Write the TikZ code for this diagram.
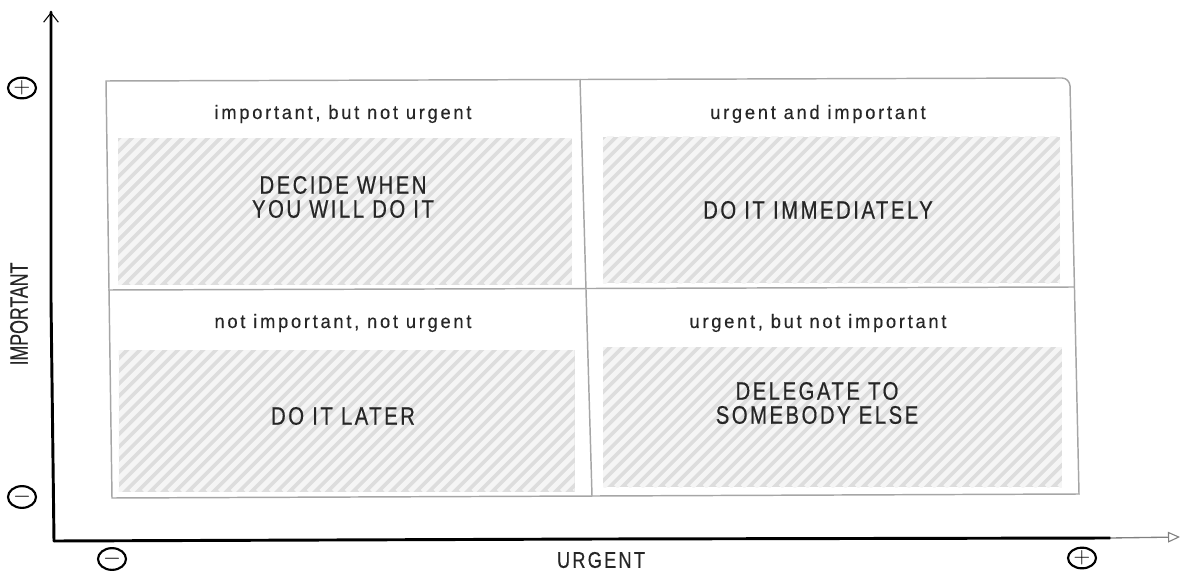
\documentclass[tikz,border=0pt]{standalone}
\usepackage{fontspec}
\setmainfont{Liberation Sans}
\newfontfamily\boxfont[FakeStretch=0.8,LetterSpace=10,FakeBold=0.5]{Liberation Sans}
\newfontfamily\notefont[FakeStretch=0.95,LetterSpace=14,FakeBold=0.3]{Liberation Sans}
\newfontfamily\axisfont[FakeStretch=0.7,FakeBold=0.3]{Liberation Sans}
\usetikzlibrary{arrows.meta, positioning, shapes.geometric}

\definecolor{ink}{HTML}{262626}
\definecolor{framegray}{HTML}{A6A6A6}
\definecolor{hatchbg}{HTML}{DDDDDD}
\definecolor{hatchln}{HTML}{F5F5F5}

\begin{document}
\begin{tikzpicture}[x=0.75pt, y=-0.75pt,
    axis/.style={line width=2.2pt, black, line cap=round},
    sign/.style={ellipse, draw=black, line width=1.6pt, minimum width=21pt,
      minimum height=15.5pt, inner sep=0pt, font=\fontsize{16}{16}\selectfont},
    hatchbox/.style={rectangle, fill=hatchbg, inner sep=0pt,
      minimum width=#1, minimum height=110pt,
      path picture={
        \foreach \k in {-16,...,46}
          \draw[hatchln, line width=3.8pt]
            ([xshift=\k*9.5pt]path picture bounding box.south west) -- ++(130pt,130pt);
      }},
    note/.style={text=ink, font=\notefont\fontsize{14.5}{16}\selectfont},
    task/.style={text=ink, align=center, font=\boxfont\fontsize{19}{18}\selectfont}]
  \useasboundingbox (0,0) rectangle (1184,573);

  % Hatched areas of the four quadrants
  \node[hatchbox=340.5pt] (TL) at (345,211.5) {};
  \node[hatchbox=343pt] (TR) at (831.5,210) {};
  \node[hatchbox=342pt, minimum height=106pt] (BL) at (346.5,421) {};
  \node[hatchbox=344pt, minimum height=105pt] (BR) at (832.5,417) {};

  % Frame and dividers
  \draw[framegray, line width=1.1pt]
    (106,81) -- (1062,78) to[out=0, in=95] (1070,86) -- (1079,494) -- (112,498) -- cycle;
  \draw[framegray, line width=1.1pt] (580,79) -- (586,290) -- (592,496);
  \draw[framegray, line width=1.1pt] (108,290) -- (1074,287);

  % Axes
  \coordinate (O) at (54,541);
  \coordinate (Ytop) at (51,12);
  \coordinate (Xfade) at (1110,538);
  \coordinate (Xend) at (1180,537);
  \draw[axis] (O) -- (51,300) -- (Ytop);
  \draw[black, line width=0.8pt, -{Straight Barb[length=7pt, width=11pt, line width=0.8pt]}]
    (51,30) -- (Ytop);
  \draw[axis] (O) -- (600,539) -- (Xfade);
  \draw[gray, line width=1pt, -{Triangle[open, length=9pt, width=8pt, line width=0.8pt]}]
    (Xfade) -- (Xend);

  % Signs at the ends of the axes
  \node[sign] (Yplus) at (22,88) {$+$};
  \node[sign] (Yminus) at (22,497) {$-$};
  \node[sign] (Xminus) at (112,559) {$-$};
  \node[sign] (Xplus) at (1082,558) {$+$};

  % Axis names
  \node[text=ink, rotate=90, font=\axisfont\fontsize{19}{19}\selectfont] (Ilabel) at (19,314) {IMPORTANT};
  \node[text=ink, font=\boxfont\fontsize{17}{17}\selectfont] (Ulabel) at (601,560) {URGENT};

  % Quadrant notes
  \node[note] (TLnote) at (343,114) {important, but not urgent};
  \node[note] (TRnote) at (818,114) {urgent and important};
  \node[note] (BLnote) at (343,323) {not important, not urgent};
  \node[note] (BRnote) at (818,323) {urgent, but not important};

  % What to do in each quadrant
  \node[task] (TLtask) at (343,197) {DECIDE WHEN\\YOU WILL DO IT};
  \node[task] (TRtask) at (818,210) {DO IT IMMEDIATELY};
  \node[task] (BLtask) at (343,416) {DO IT LATER};
  \node[task] (BRtask) at (817,403) {DELEGATE TO\\SOMEBODY ELSE};
\end{tikzpicture}
\end{document}
